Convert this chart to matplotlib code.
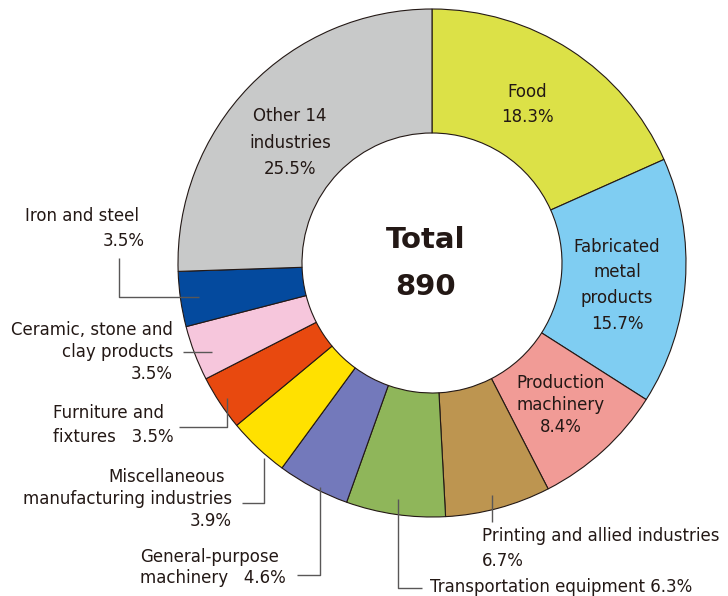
import matplotlib.pyplot as plt

plt.rcParams['font.family'] = ['DejaVu Sans']

# data, clockwise from 12 o'clock
industries = ['Food', 'Fabricated metal products', 'Production machinery',
              'Printing and allied industries', 'Transportation equipment',
              'General-purpose machinery', 'Miscellaneous manufacturing industries',
              'Furniture and fixtures', 'Ceramic, stone and clay products',
              'Iron and steel', 'Other 14 industries']
shares = [18.3, 15.7, 8.4, 6.7, 6.3, 4.6, 3.9, 3.5, 3.5, 3.5, 25.5]
total = 890

colors = ['#dce147', '#7fcdf2', '#f19b96', '#bd9550', '#8fb65a', '#7379bb',
          '#ffe100', '#e8490f', '#f6c6dc', '#044a9e', '#c8c9c9']

W, H = 728, 596
txt = '#231815'
lead = '#595757'
fs = 12

fig = plt.figure(figsize=(W / 100, H / 100), dpi=100)
ax = fig.add_axes([0, 0, 1, 1])


def Y(py):
    return H - py


ax.pie(shares, colors=colors, startangle=90, counterclock=False,
       radius=254, center=(432, Y(263)),
       wedgeprops=dict(width=124, edgecolor=txt, linewidth=0.8))
ax.set_xlim(0, W)
ax.set_ylim(0, H)
ax.set_aspect('equal')
ax.axis('off')

# centre
ax.text(426, Y(240), 'Total', ha='center', va='center', fontsize=21,
        fontweight='bold', color=txt)
ax.text(426, Y(287), str(total), ha='center', va='center', fontsize=21,
        fontweight='bold', color=txt)


def pct(i):
    return f'{shares[i]}%'


def put(x, py, s, ha='center'):
    ax.text(x, Y(py), s, ha=ha, va='center', fontsize=fs, color=txt)


# labels inside the ring
put(527, 92, 'Food')
put(527, 117, pct(0))
for py, s in zip([247, 272, 298, 324], ['Fabricated', 'metal', 'products', pct(1)]):
    put(617, py, s)
for py, s in zip([383, 405, 427], ['Production', 'machinery', pct(2)]):
    put(561, py, s)
for py, s in zip([116, 143, 169], ['Other 14', 'industries', pct(10)]):
    put(290, py, s)

# labels outside with leader lines
def leader(xs, pys):
    ax.plot(xs, [Y(p) for p in pys], color=lead, lw=1, solid_capstyle='butt')


put(482, 536, 'Printing and allied industries', ha='left')
put(482, 561, pct(3), ha='left')
leader([492, 492], [495, 522])

put(430, 587, f'Transportation equipment {pct(4)}', ha='left')
leader([398, 398, 422], [499, 588, 588])

put(140, 557, 'General-purpose', ha='left')
put(140, 578, f'machinery   {pct(5)}', ha='left')
leader([320, 320, 297], [487, 575, 575])

put(225, 477, 'Miscellaneous', ha='right')
put(232, 499, 'manufacturing industries', ha='right')
put(232, 521, pct(6), ha='right')
leader([264, 264, 242], [458, 503, 503])

put(53, 413, 'Furniture and', ha='left')
put(53, 437, f'fixtures   {pct(7)}', ha='left')
leader([227, 227, 179], [398, 427, 427])

put(173, 330, 'Ceramic, stone and', ha='right')
put(173, 352, 'clay products', ha='right')
put(173, 374, pct(8), ha='right')
leader([183, 212], [352, 352])

put(25, 216, 'Iron and steel', ha='left')
put(145, 241, pct(9), ha='right')
leader([119, 119, 199], [258, 297, 297])

fig.savefig('out.png', dpi=100)
